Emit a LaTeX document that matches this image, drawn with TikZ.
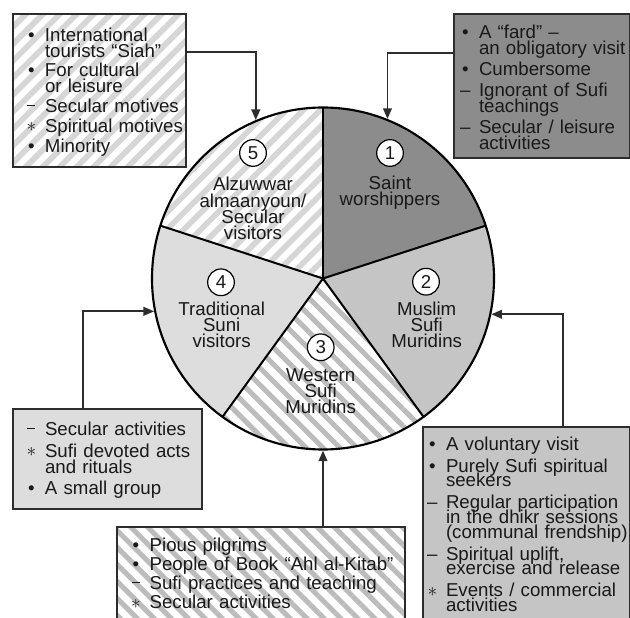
\documentclass[tikz,border=0pt]{standalone}
\usepackage{fontspec}
\setmainfont{Liberation Sans}
\usetikzlibrary{arrows.meta,calc,patterns.meta}
\definecolor{sliceone}{RGB}{140,140,140}
\definecolor{slicetwo}{RGB}{197,197,197}
\definecolor{slicefour}{RGB}{221,221,221}
\definecolor{stripefive}{RGB}{214,214,214}
\definecolor{stripethree}{RGB}{188,188,188}
\definecolor{inkgray}{RGB}{45,45,45}
\definecolor{textgray}{RGB}{25,25,25}

\newcommand\boxfont{\fontsize{14pt}{12pt}\selectfont\lineskiplimit=-20pt\relax}
\newcommand\tightfont{\fontsize{14pt}{11pt}\selectfont\lineskiplimit=-20pt\relax}
\newcommand\piefont{\fontsize{14pt}{12.2pt}\selectfont\lineskiplimit=-20pt\relax}
\newlength\itmsep
\setlength\itmsep{3.5pt}
\newif\iffirstitm
% one list entry: marker, then its lines split by \\
\newcommand\itm[2]{\par\iffirstitm\firstitmfalse\else\vskip\itmsep\fi\begingroup
  \def\\{\egroup\hbox\bgroup\hspace*{16.5pt}}%
  \hbox\bgroup\makebox[16.5pt][l]{\makebox[12.5pt]{#1}}#2\egroup\endgroup}
\newcommand\bul{\textbullet}
\newcommand\shortdash{\raisebox{4.8pt}{\rule{6pt}{1pt}}}
\newcommand\astmark{\raisebox{0.5pt}{$\ast$}}

\tikzset{
  itemgap/.code={\setlength\itmsep{#1}\firstitmtrue},
  infobox/.style={draw=inkgray, line width=1.5pt, font=\boxfont, text=textgray,
    align=left, anchor=north west, inner ysep=0pt, itemgap=3.5pt},
  link/.style={draw=inkgray, line width=1.4pt, -{Triangle[length=8pt,width=6.5pt]}},
  num/.style={circle, draw, fill=white, line width=0.9pt, minimum size=20pt,
    inner sep=0pt, font=\boxfont, text=textgray},
  slicelabel/.style={align=center, font=\piefont, text=textgray},
}

\begin{document}
\begin{tikzpicture}[x=0.75pt,y=0.75pt]
  \useasboundingbox (0,0) rectangle (630,617);
  % slices of the pie
  \begin{scope}[shift={(323,338.5)}]
    \fill[sliceone] (0,0) -- (18:171) arc[start angle=18, end angle=90, radius=128.25pt] -- cycle;
    \fill[slicetwo] (0,0) -- (-54:171) arc[start angle=-54, end angle=18, radius=128.25pt] -- cycle;
    \fill[pattern={Lines[angle=-45,distance=9pt,line width=3.8pt]}, pattern color=stripethree]
      (0,0) -- (-126:171) arc[start angle=-126, end angle=-54, radius=128.25pt] -- cycle;
    \fill[slicefour] (0,0) -- (162:171) arc[start angle=162, end angle=234, radius=128.25pt] -- cycle;
    \fill[pattern={Lines[angle=45,distance=9pt,line width=4.3pt]}, pattern color=stripefive]
      (0,0) -- (90:171) arc[start angle=90, end angle=162, radius=128.25pt] -- cycle;
    % dividing lines
    \foreach \a in {90,18,-54,-126,162}
      \draw[line width=1.5pt] (0,0) -- (\a:171);
    \node[draw, circle, line width=1.6pt, minimum size=256.5pt, inner sep=0pt] (pie) at (0,0) {};
  \end{scope}

  % numbers and names of the groups
  \node[num] (n1) at (390,464) {1};
  \node[num] (n2) at (426,335.3) {2};
  \node[num] (n3) at (320.7,269.7) {3};
  \node[num] (n4) at (221,334.7) {4};
  \node[num] (n5) at (253,464) {5};
  \node[slicelabel] (l1) at (390,424.5) {Saint\\worshippers};
  \node[slicelabel] (l2) at (426.7,292) {Muslim\\Sufi\\Muridins};
  \node[slicelabel] (l3) at (320.7,226) {Western\\Sufi\\Muridins};
  \node[slicelabel] (l4) at (221.7,292) {Traditional\\Suni\\visitors};
  \node[slicelabel] (l5) at (253,408.5) {Alzuwwar\\almaanyoun/\\Secular\\visitors};

  % boxes round the pie
  \node[infobox, text width=115pt, inner xsep=7.5pt, minimum height=114.75pt, itemgap=2.8pt,
    pattern={Lines[angle=45,distance=9pt,line width=4.3pt]}, pattern color=stripefive] (b5) at (12,604) {
    \itm{\bul}{International\\tourists “Siah”}
    \itm{\bul}{For cultural\\or leisure}
    \itm{\shortdash}{Secular motives}
    \itm{\astmark}{Spiritual motives}
    \itm{\bul}{Minority}};
  \node[infobox, text width=127.7pt, inner xsep=2.25pt, minimum height=108pt, itemgap=3.7pt,
    fill=sliceone] (b1) at (453,604) {
    \itm{\bul}{A “fard” –\\an obligatory visit}
    \itm{\bul}{Cumbersome}
    \itm{–}{Ignorant of Sufi\\teachings}
    \itm{–}{Secular / leisure\\activities}};
  \node[infobox, text width=126.75pt, inner xsep=7.5pt, minimum height=75pt, itemgap=3.9pt,
    fill=slicefour] (b4) at (12,209) {
    \itm{\shortdash}{Secular activities}
    \itm{\astmark}{Sufi devoted acts\\and rituals}
    \itm{\bul}{A small group}};
  \node[infobox, font=\tightfont, text width=153.75pt, inner xsep=0.75pt, minimum height=145pt,
    itemgap=5.5pt, fill=slicetwo] (b2) at (422,191) {
    \itm{\bul}{A voluntary visit}
    \itm{\bul}{Purely Sufi spiritual\\seekers}
    \itm{–}{Regular participation\\in the dhikr sessions\\(communal frendship)}
    \itm{–}{Spiritual uplift,\\exercise and release}
    \itm{\astmark}{Events / commercial\\activities}};
  % this box runs on past the lower edge
  \node[infobox, text width=200pt, inner xsep=8pt, minimum height=82pt, itemgap=2.25pt,
    pattern={Lines[angle=-45,distance=9pt,line width=3.8pt]}, pattern color=stripethree] (b3) at (116,91) {
    \itm{\bul}{Pious pilgrims}
    \itm{\bul}{People of Book “Ahl al-Kitab”}
    \itm{\shortdash}{Sufi practices and teaching}
    \itm{\astmark}{Secular activities}\kern14pt};

  % connectors from boxes to the pie
  \draw[link] ($(b5.north east)+(0,-39)$) -| (pie.113.4);
  \draw[link] ($(b1.north west)+(0,-40)$) -| (pie.68);
  \draw[link] ($(b4.north west)+(71.3,0)$) |- (pie.191.3);
  \draw[link] ($(b2.north west)+(140.7,0)$) |- (pie.348.7);
  \draw[link] (pie.south |- b3.north) -- (pie.south);
\end{tikzpicture}
\end{document}
